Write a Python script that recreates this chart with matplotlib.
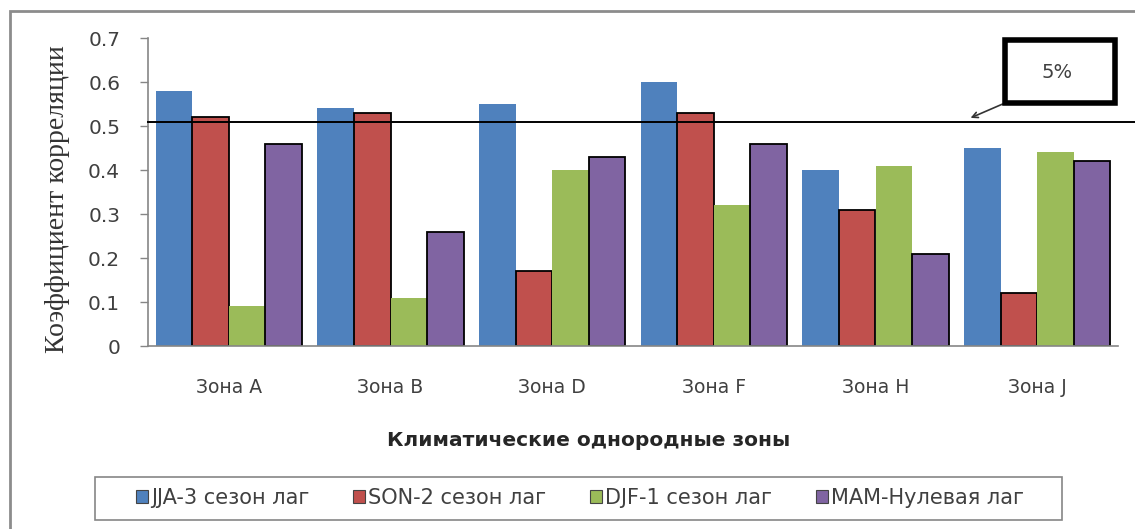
#!/usr/bin/env python3
"""Correlation coefficients by climatic zone, grouped bars."""

import matplotlib
matplotlib.use("Agg")
import matplotlib.pyplot as plt
import numpy as np
from matplotlib.patches import Rectangle

zones = ["Зона A", "Зона B", "Зона D", "Зона F", "Зона H", "Зона J"]
series_names = ["JJA-3 сезон лаг", "SON-2 сезон лаг", "DJF-1 сезон лаг", "MAM-Нулевая лаг"]
jja = [0.58, 0.54, 0.55, 0.60, 0.40, 0.45]
son = [0.52, 0.53, 0.17, 0.53, 0.31, 0.12]
djf = [0.09, 0.11, 0.40, 0.32, 0.41, 0.44]
mam = [0.46, 0.26, 0.43, 0.46, 0.21, 0.42]
threshold = 0.51
threshold_label = "5%"

COLORS = ["#4F81BD", "#C0504D", "#9BBB59", "#8064A2"]
EDGES = ["none", "black", "none", "black"]
AXIS_GRAY = "#868686"
TEXT = "#404040"

W, H = 1135, 529
fig = plt.figure(figsize=(W / 100, H / 100), dpi=100)
fig.patch.set_facecolor("white")

# outer chart border (right/bottom cut off in the source)
fig.add_artist(Rectangle((10 / W, -0.05), 1.2, 1 - 11 / H + 0.05, transform=fig.transFigure,
                         facecolor="none", edgecolor="#8c8c8c", linewidth=2))

ax = fig.add_axes([148 / W, 1 - 346 / H, 970 / W, 308 / H])
x = np.arange(len(zones)) + 0.5
bw = 0.226
for i, (vals, name) in enumerate(zip([jja, son, djf, mam], series_names)):
    ax.bar(x + (i - 1.5) * bw, vals, width=bw, color=COLORS[i],
           edgecolor=EDGES[i], linewidth=1.3 if EDGES[i] != "none" else 0, label=name)

ax.set_xlim(0, len(zones))
ax.set_ylim(0, 0.7)
ax.set_yticks(np.arange(0, 0.71, 0.1))
ax.set_yticklabels(["0"] + [f"{v:.1f}" for v in np.arange(0.1, 0.71, 0.1)])
ax.set_xticks(x)
ax.set_xticklabels(zones)
ax.tick_params(axis="x", length=0, pad=23, labelsize=13.5, labelcolor=TEXT)
ax.tick_params(axis="y", length=6, width=1, color=AXIS_GRAY, labelsize=14.5, labelcolor=TEXT, pad=14)
for s in ["top", "right"]:
    ax.spines[s].set_visible(False)
for s in ["left", "bottom"]:
    ax.spines[s].set_color(AXIS_GRAY)
    ax.spines[s].set_linewidth(1.2)

ax.axhline(threshold, xmin=0, xmax=1.02, color="black", linewidth=1.4, clip_on=False, zorder=5)

# 5% callout
fig.text(1057 / W, 1 - 72 / H, threshold_label, ha="center", va="center", fontsize=14, color=TEXT)
fig.add_artist(Rectangle((1005 / W, 1 - 103 / H), 110 / W, 63 / H, transform=fig.transFigure,
                         facecolor="none", edgecolor="black", linewidth=4))
ax.annotate("", xy=(968 / W, 1 - 119 / H), xytext=(1005 / W, 1 - 103 / H),
            xycoords="figure fraction", textcoords="figure fraction",
            arrowprops=dict(arrowstyle="->", color="#333333", lw=1.2))

fig.text(57 / W, 1 - 199 / H, "Коэффициент корреляции", family="Liberation Serif", fontsize=20,
         color="#333333", rotation=90, ha="center", va="center")
fig.text(589 / W, 1 - 440 / H, "Климатические однородные зоны", ha="center", va="center",
         fontsize=14.5, fontweight="bold", color="#262626")

# legend box
fig.add_artist(Rectangle((95 / W, 1 - 520 / H), 967 / W, 43 / H, transform=fig.transFigure,
                         facecolor="white", edgecolor=AXIS_GRAY, linewidth=1.2))
leg = fig.legend(loc="center", bbox_to_anchor=(580 / W, 1 - 498 / H), ncol=4, frameon=False,
                 fontsize=15, handlelength=0.58, handleheight=0.58, handletextpad=0.15,
                 columnspacing=2.1, borderpad=0, labelcolor=TEXT)
for h in leg.legend_handles:
    h.set_edgecolor("#444444")
    h.set_linewidth(0.8)

fig.savefig("out.png", dpi=100, facecolor="white")
